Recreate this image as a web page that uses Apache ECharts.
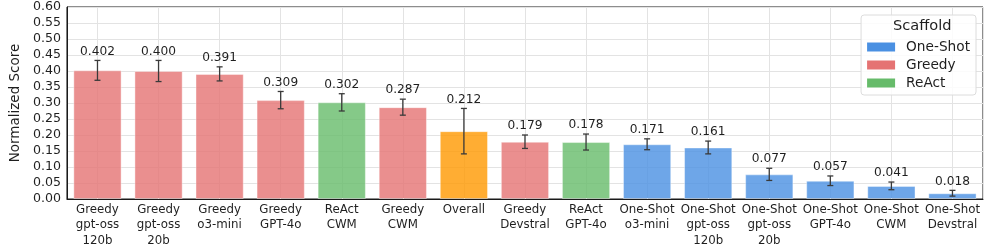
<!DOCTYPE html>
<html><head><meta charset="utf-8">
<script src="https://cdn.jsdelivr.net/npm/echarts@6/dist/echarts.min.js"></script>
<style>html,body{margin:0;padding:0;background:#fff}#c{width:987px;height:250px}</style>
</head><body><div id="c"></div>
<script>
const categories = ['Greedy\ngpt-oss\n120b','Greedy\ngpt-oss\n20b','Greedy\no3-mini','Greedy\nGPT-4o','ReAct\nCWM','Greedy\nCWM','Overall','Greedy\nDevstral','ReAct\nGPT-4o','One-Shot\no3-mini','One-Shot\ngpt-oss\n120b','One-Shot\ngpt-oss\n20b','One-Shot\nGPT-4o','One-Shot\nCWM','One-Shot\nDevstral'];
const scaffolds = ['Greedy','Greedy','Greedy','Greedy','ReAct','Greedy','Overall','Greedy','ReAct','One-Shot','One-Shot','One-Shot','One-Shot','One-Shot','One-Shot'];
const scores = [0.402,0.400,0.391,0.309,0.302,0.287,0.212,0.179,0.178,0.171,0.161,0.077,0.057,0.041,0.018];
const errors = [0.031,0.033,0.022,0.027,0.027,0.025,0.071,0.021,0.025,0.017,0.020,0.019,0.015,0.012,0.009];
const yTicks = {min:0, max:0.6, interval:0.05};
const legendNames = ['One-Shot','Greedy','ReAct'];
const colors = {'One-Shot':'#4a90e2','Greedy':'#e57373','ReAct':'#66bb6a','Overall':'#ff9800'};

const FONT = 'DejaVu Sans';
const chart = echarts.init(document.getElementById('c'));
const groups = ['One-Shot','Greedy','ReAct','Overall'];
const barSeries = groups.map(g => ({
  name: g, type: 'bar', stack: 'all', barWidth: '79%',
  itemStyle: {color: colors[g], opacity: 0.8, borderColor: 'rgba(255,255,255,0.5)', borderWidth: 1},
  data: scores.map((v,i) => scaffolds[i] === g ? v : '-'),
  z: 2
}));
const half = [];
for (let i = 0; i < 30; i++) half.push(String(i));

const option = {
  animation: false,
  textStyle: {fontFamily: FONT},
  grid: {left: 54, right: 4, top: 7, bottom: 51, show: true, borderColor: '#1a1a1a', borderWidth: 1, backgroundColor: 'transparent'},
  legend: {
    orient: 'vertical', right: 11, top: 15,
    data: legendNames.map(n => ({name: n, itemStyle: {opacity: 1, color: colors[n], borderWidth: 0}})),
    itemWidth: 28, itemHeight: 9, itemGap: 4,
    padding: [25, 6, 5, 6],
    borderColor: '#dcdcdc', borderWidth: 1, borderRadius: 3,
    backgroundColor: 'rgba(255,255,255,0.85)',
    textStyle: {fontFamily: FONT, fontSize: 13.7, color: '#1f1f1f', padding: [0,0,0,6]},
    icon: 'rect'
  },
  graphic: [{
    type: 'text', left: 893, top: 19, z: 100,
    style: {text: 'Scaffold', font: '14.6px "DejaVu Sans"', fill: '#1f1f1f'}
  }],
  xAxis: [{
    type: 'category', data: categories, gridIndex: 0,
    axisLine: {lineStyle: {color: '#1a1a1a'}}, axisTick: {show: false},
    axisLabel: {fontFamily: FONT, fontSize: 11.8, color: '#1f1f1f', lineHeight: 15.5, margin: 3, interval: 0},
    splitLine: {show: false}
  }, {
    type: 'category', data: half, gridIndex: 0, position: 'top',
    axisLine: {show: false}, axisTick: {show: false}, axisLabel: {show: false},
    splitLine: {show: true, interval: (i) => i % 2 === 1, lineStyle: {color: '#e3e3e3', width: 1}}
  }],
  yAxis: {
    type: 'value', min: yTicks.min, max: yTicks.max, interval: yTicks.interval,
    name: 'Normalized Score', nameLocation: 'middle', nameGap: 44, nameRotate: 90,
    nameTextStyle: {fontFamily: FONT, fontSize: 13.5, color: '#1f1f1f'},
    axisLine: {show: true, lineStyle: {color: '#1a1a1a'}}, axisTick: {show: false},
    axisLabel: {fontFamily: FONT, fontSize: 12.6, color: '#1f1f1f', margin: 6, formatter: v => v.toFixed(2)},
    splitLine: {show: true, lineStyle: {color: '#e3e3e3', width: 1}}
  },
  series: barSeries.concat([{
    type: 'custom', z: 10, xAxisIndex: 0,
    data: scores.map((v,i) => [i, v, errors[i]]),
    renderItem: (params, api) => {
      const x = api.value(0), v = api.value(1), e = api.value(2);
      const top = api.coord([x, v + e]);
      const bot = api.coord([x, v - e]);
      const cx = top[0], cap = 3;
      const st = {stroke: '#3a3a3a', lineWidth: 1.3};
      return {type: 'group', children: [
        {type: 'line', shape: {x1: cx, y1: top[1], x2: cx, y2: bot[1]}, style: st},
        {type: 'line', shape: {x1: cx-cap, y1: top[1], x2: cx+cap, y2: top[1]}, style: st},
        {type: 'line', shape: {x1: cx-cap, y1: bot[1], x2: cx+cap, y2: bot[1]}, style: st},
        {type: 'text', x: cx, y: top[1] - 3, style: {text: v.toFixed(3), font: '12.2px "DejaVu Sans"', fill: '#1f1f1f', textAlign: 'center', textVerticalAlign: 'bottom'}}
      ]};
    }
  }])
};
chart.setOption(option);
</script></body></html>
